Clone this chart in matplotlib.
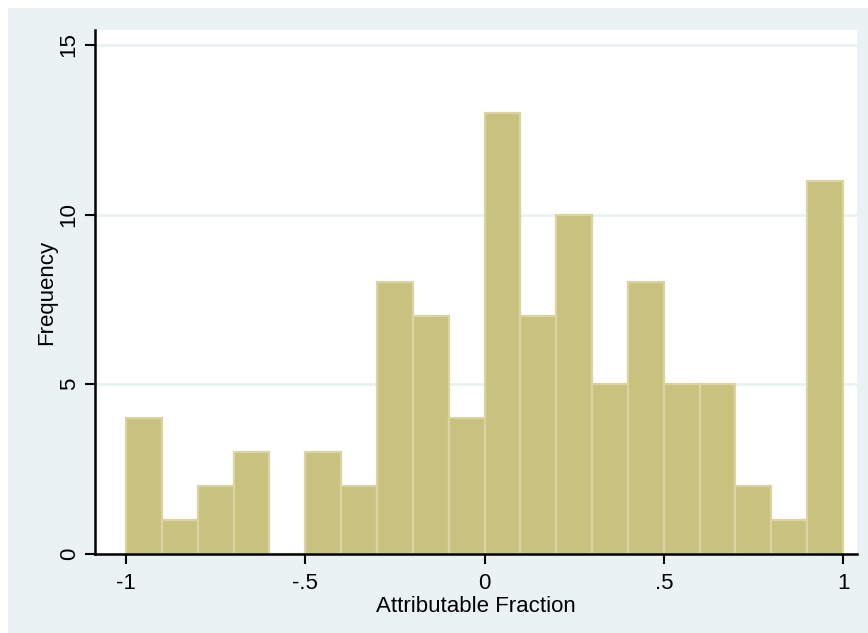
import matplotlib
matplotlib.use('Agg')
import matplotlib.pyplot as plt
import numpy as np

plt.rcParams['font.family'] = ['Liberation Sans', 'DejaVu Sans']

# histogram bins of width .1 from -1 to 1
bin_edges = np.round(np.arange(-1.0, 1.0001, 0.1), 2)
counts = [4, 1, 2, 3, 0, 3, 2, 8, 7, 4, 13, 7, 10, 5, 8, 5, 5, 2, 1, 11]
xticks = [-1, -0.5, 0, 0.5, 1]
xticklabels = ['-1', '-.5', '0', '.5', '1']
yticks = [0, 5, 10, 15]

bg = '#eaf2f3'
fig = plt.figure(figsize=(8.68, 6.33), dpi=100)
fig.patch.set_facecolor(bg)
# thin white strips on top and left edges
fig.patches.append(plt.Rectangle((0, 1 - 8 / 633), 1, 8 / 633, transform=fig.transFigure,
                                 facecolor='white', edgecolor='none', zorder=-10))
fig.patches.append(plt.Rectangle((0, 0), 8 / 868, 1, transform=fig.transFigure,
                                 facecolor='white', edgecolor='none', zorder=-10))

ax = fig.add_axes([95 / 868, 79 / 633, 762 / 868, 524 / 633])
ax.set_facecolor('white')

for y in yticks[1:]:
    ax.axhline(y, color=bg, lw=2, zorder=0)

ax.bar(bin_edges[:-1], counts, width=0.1, align='edge', color='#c9c27e',
       edgecolor='#d9d4a2', linewidth=1.6, zorder=2)

ax.set_xlim(-1.0865, 1.039)
ax.set_ylim(0, 15.44)
ax.set_xticks(xticks)
ax.set_xticklabels(xticklabels)
ax.set_yticks(yticks)
ax.set_yticklabels([str(v) for v in yticks], rotation=90, va='center')
ax.tick_params(direction='out', length=7, width=1.5, labelsize=16, colors='black')
ax.tick_params(axis='x', pad=7)
ax.tick_params(axis='y', pad=4)

for s in ['top', 'right']:
    ax.spines[s].set_visible(False)
for s in ['left', 'bottom']:
    ax.spines[s].set_linewidth(1.8)

ax.set_xlabel('Attributable Fraction', fontsize=16, labelpad=1)
ax.set_ylabel('Frequency', fontsize=16, labelpad=1)

fig.savefig('out.png', dpi=100, facecolor=fig.get_facecolor())
